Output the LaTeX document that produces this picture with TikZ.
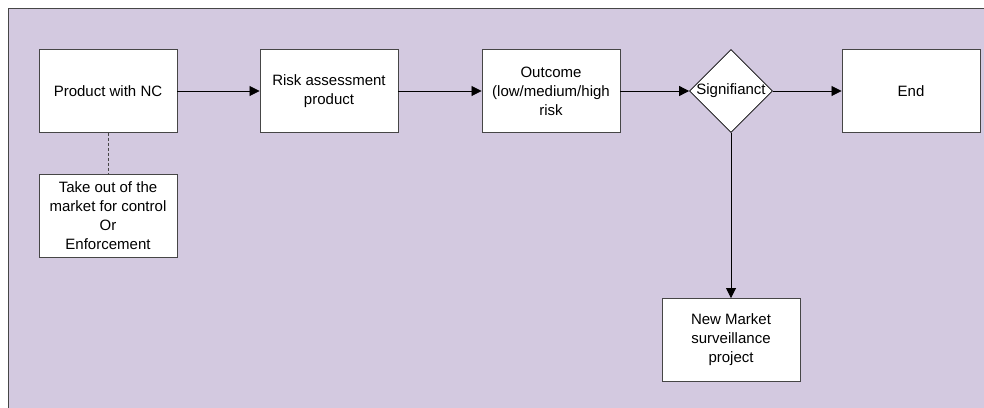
\documentclass[tikz,border=0pt]{standalone}
\usepackage{fontspec}
\setmainfont{Liberation Sans}
\usetikzlibrary{shapes.geometric,arrows.meta}
\definecolor{panel}{RGB}{211,201,224}
\definecolor{edge}{RGB}{70,70,70}
\begin{document}
\begin{tikzpicture}[x=1pt,y=-1pt,
  box/.style={draw=edge,fill=white,line width=0.9pt,minimum width=138pt,minimum height=83pt,
    align=center,font=\fontsize{15}{19}\selectfont,inner sep=1pt},
  decision/.style={draw=black,fill=white,line width=0.8pt,diamond,minimum width=83pt,
    minimum height=83pt,inner sep=0pt},
  flow/.style={draw=black,line width=0.8pt,-{Triangle[length=10pt,width=10pt]}},
  link/.style={draw=edge,line width=0.9pt,dash pattern=on 3pt off 2pt}]
\useasboundingbox (0,0) rectangle (984,407);
\begin{scope}
\clip (0,0) rectangle (984,407);
\draw[fill=panel,draw=edge,line width=1pt] (8,8) rectangle (990,412);
\end{scope}

\node[box] (nc) at (108,91) {Product with NC};
\node[box] (take) at (108,216) {Take out of the\\market for control\\Or\\Enforcement};
\node[box] (risk) at (329,91) {Risk assessment\\product};
\node[box] (out) at (551,91) {Outcome\\(low/medium/high\\risk};
\node[decision,label={[font=\fontsize{15}{19}\selectfont,inner sep=0pt]center:Signifianct}] (sig) at (731,91) {};
\node[box] (end) at (911,91) {End};
\node[box] (new) at (731,340) {New Market\\surveillance\\project};

\draw[link] (nc.south) -- (take.north);
\draw[flow] (nc.east) -- (risk.west);
\draw[flow] (risk.east) -- (out.west);
\draw[flow] (out.east) -- (sig.west);
\draw[flow] (sig.east) -- (end.west);
\draw[flow] (sig.south) -- (new.north);
\end{tikzpicture}
\end{document}
